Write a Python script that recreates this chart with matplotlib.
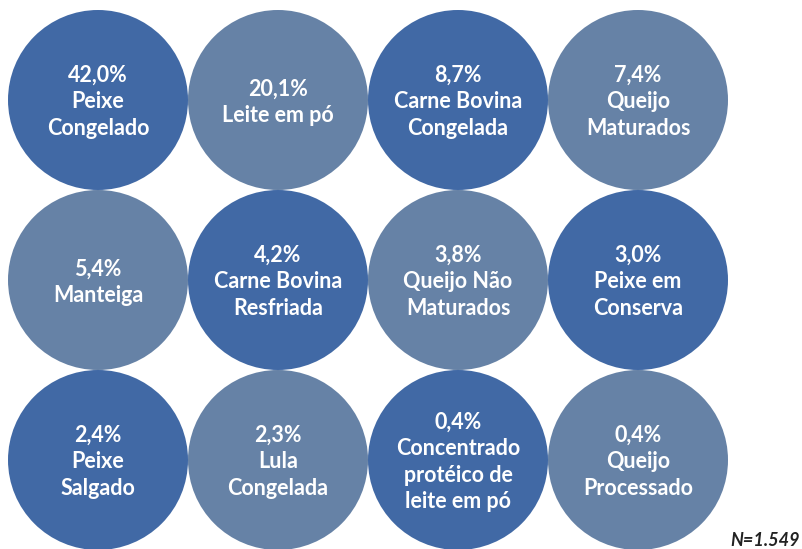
import matplotlib.pyplot as plt
from matplotlib.patches import Circle

# Dados
shares = ["42,0%", "20,1%", "8,7%", "7,4%",
          "5,4%", "4,2%", "3,8%", "3,0%",
          "2,4%", "2,3%", "0,4%", "0,4%"]
products = ["Peixe\nCongelado", "Leite em pó", "Carne Bovina\nCongelada", "Queijo\nMaturados",
            "Manteiga", "Carne Bovina\nResfriada", "Queijo Não\nMaturados", "Peixe em\nConserva",
            "Peixe\nSalgado", "Lula\nCongelada", "Concentrado\nprotéico de\nleite em pó", "Queijo\nProcessado"]
sample_note = "N=1.549"

dark = "#4169a5"
light = "#6682a6"

fig = plt.figure(figsize=(8.02, 5.49), dpi=100)
ax = fig.add_axes([0, 0, 1, 1])
ax.set_xlim(0, 802)
ax.set_ylim(549, 0)
ax.set_aspect("equal")
ax.axis("off")

ncols = 4
for i, (share, prod) in enumerate(zip(shares, products)):
    r, c = divmod(i, ncols)
    cx = 98 + c * 180
    cy = 100 + r * 180
    color = dark if (r + c) % 2 == 0 else light
    ax.add_patch(Circle((cx, cy), 90, facecolor=color, edgecolor="none"))
    lines = [share] + prod.split("\n")
    n = len(lines)
    for k, line in enumerate(lines):
        y = cy + 2 + (k - (n - 1) / 2) * 26.5
        ax.text(cx, y, line, ha="center", va="center", color="white",
                fontsize=15.5, fontweight="bold", family="Lato")

ax.text(800, 541, sample_note, ha="right", va="center", fontsize=13,
        fontweight="bold", style="italic", color="#222222", family="Lato")

plt.savefig("out.png", dpi=100)
